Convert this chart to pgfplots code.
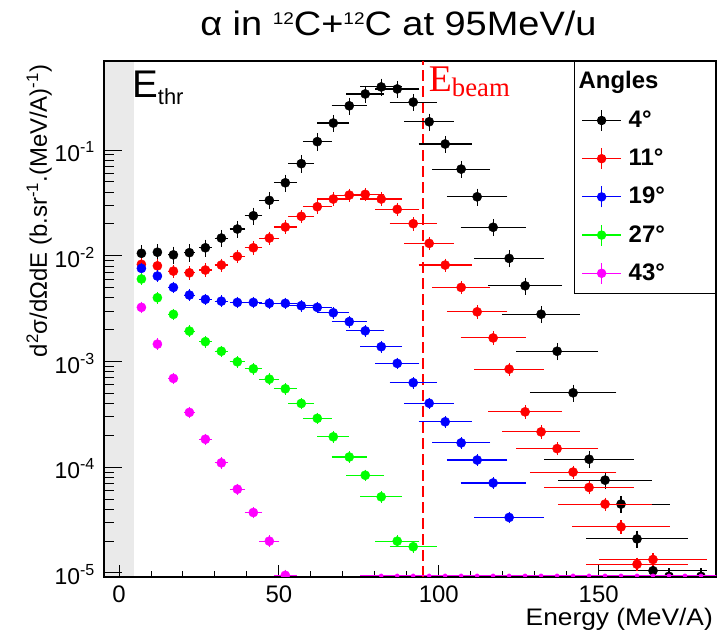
\documentclass[border=0pt]{standalone}
\usepackage{fontspec}
\setmainfont{Liberation Sans}
\newfontfamily\timesf{Liberation Serif}
\usepackage{graphicx}
\usepackage{pgfplots}
\pgfplotsset{compat=1.18}
\usepackage{pgfplotstable}

\definecolor{rblack}{RGB}{0,0,0}
\definecolor{rred}{RGB}{255,0,0}
\definecolor{rblue}{RGB}{0,0,255}
\definecolor{rgreen}{RGB}{0,255,0}
\definecolor{rmag}{RGB}{255,0,255}
\definecolor{band}{RGB}{234,234,234}

\pgfplotstableread{
x y ex
7 0.01055 0.3
12 0.0108 0.4
17 0.0102 0.6
22 0.0107 0.8
27 0.0119 1.0
32 0.0147 1.2
37 0.0179 1.5
42 0.0239 1.8
47 0.0334 2.2
52 0.049 2.6
57 0.0743 3.1
62 0.120 3.6
67 0.180 4.0
72 0.262 4.6
77 0.339 5.0
82 0.395 5.6
87 0.378 6.0
92 0.284 6.4
97 0.185 6.8
102 0.114 7.4
107 0.066 8.1
112 0.0361 8.5
117 0.0186 9.2
122 0.00944 9.9
127 0.0052 10.6
132 0.0028 11.2
137 0.00125 11.9
142 0.000506 12.6
147 0.000119 13.1
152 0.0000755 13.7
157 0.0000448 14.3
162 0.000021 15.0
167 0.0000105 15.8
172 0.0000093 16.4
182 0.0000093 17.6
}\tblack

\pgfplotstableread{
x y ex
7 0.0083 0.3
12 0.00803 0.4
17 0.00716 0.6
22 0.0069 0.8
27 0.00733 1.0
32 0.00817 1.2
37 0.00986 1.5
42 0.0119 1.8
47 0.0147 2.2
52 0.0187 2.6
57 0.0236 3.1
62 0.0291 3.6
67 0.0344 4.0
72 0.0375 4.6
77 0.0381 5.0
82 0.0344 5.6
87 0.0275 6.0
92 0.0201 6.4
97 0.0131 6.8
102 0.00817 7.4
107 0.00502 8.1
112 0.00295 8.5
117 0.00167 9.2
122 0.000847 9.9
127 0.000334 10.6
132 0.000216 11.2
137 0.000150 11.9
142 0.0000900 12.6
147 0.0000644 13.1
152 0.0000448 13.7
157 0.0000273 14.3
162 0.0000121 15.0
167 0.0000134 15.8
}\tred

\pgfplotstableread{
x y ex
7 0.0076 0.3
12 0.00643 0.4
17 0.00502 0.6
22 0.00425 0.8
27 0.00387 1.0
32 0.00372 1.2
37 0.00362 1.5
42 0.00362 1.8
47 0.00355 2.2
52 0.00355 2.6
57 0.00337 3.1
62 0.00325 3.6
67 0.00289 4.0
72 0.00238 4.6
77 0.00195 5.0
82 0.00138 5.6
87 0.00096 6.0
92 0.00063 6.4
97 0.000403 6.8
102 0.000269 7.4
107 0.00017 8.1
112 0.000117 8.5
117 0.000071 9.2
122 0.0000335 9.9
}\tblue

\pgfplotstableread{
x y ex
7 0.00603 0.3
12 0.00401 0.4
17 0.00279 0.6
22 0.00194 0.8
27 0.00154 1.0
32 0.00125 1.2
37 0.000993 1.5
42 0.000853 1.8
47 0.000681 2.2
52 0.000552 2.6
57 0.000401 3.1
62 0.00029 3.6
67 0.000194 4.0
72 0.000125 4.6
77 0.000084 5.0
82 0.0000525 5.6
87 0.00002 6.0
92 0.0000177 6.4
}\tgreen

\pgfplotstableread{
x y ex
7 0.00325 0.3
12 0.00146 0.4
17 0.000692 0.6
22 0.00033 0.8
27 0.000184 1.0
32 0.00011 1.2
37 0.000062 1.5
42 0.0000373 1.8
47 0.00002 2.2
52 0.0000095 2.6
}\tmag

\pgfplotstableread{
x y ex
82 0.0000094 5.6
87 0.0000094 6.0
92 0.0000094 6.4
97 0.0000094 6.8
102 0.0000094 7.4
107 0.0000094 8.1
112 0.0000094 8.5
117 0.0000094 9.2
122 0.0000094 9.9
127 0.0000094 10.6
132 0.0000094 11.2
137 0.0000094 11.9
142 0.0000094 12.6
147 0.0000094 13.1
152 0.0000094 13.7
157 0.0000094 14.3
162 0.0000094 15.0
167 0.0000094 15.8
172 0.0000094 16.4
177 0.0000094 17.0
182 0.0000094 17.6
}\tmagzero

\pgfplotsset{
  rootleg/.style={legend image code/.code={
    \draw[#1, line width=1.2bp] (0bp,7bp) -- (39bp,7bp);
    \draw[#1, line width=1.2bp] (19.5bp,-3.5bp) -- (19.5bp,17.5bp);
    \fill[#1] (19.5bp,7bp) circle (4.2bp);}},
  rootpts/.style n args={2}{color=#1, only marks, mark=*, mark size=4.6bp,
    mark options={fill=#1, draw=#1, solid}, rootleg=#1,
    error bars/.cd, x dir=both, x explicit, y dir=both, y fixed relative=#2,
    error bar style={color=#1, line width=1.1bp},
    error mark options={color=#1, mark size=3bp, line width=1.1bp}},
}
\newcommand{\lgt}[1]{\makebox[79.6bp][l]{\rule[-4bp]{0pt}{21bp}#1}}
\newcommand{\sups}[1]{\raisebox{11.5bp}{\fontsize{17}{17}\selectfont #1}}

\begin{document}
\begin{tikzpicture}
\begin{axis}[name=ax, set layers,
  scale only axis, width=612bp, height=516bp,
  xmin=-4.7, xmax=186.7, ymode=log, ymin=9.16e-6, ymax=0.695,
  clip mode=individual, clip marker paths=true,
  xtick={0,50,100,150}, minor x tick num=4,
  ytick={1e-5,1e-4,1e-3,1e-2,1e-1},
  yticklabels={10\textsuperscript{-5},10\textsuperscript{-4},10\textsuperscript{-3},10\textsuperscript{-2},10\textsuperscript{-1}},
  xtick pos=left, ytick pos=left, tick align=inside,
  major tick length=18bp, minor tick length=10bp,
  xtick style={/pgfplots/major tick length=12.5bp, /pgfplots/minor tick length=6.3bp},
  every tick/.style={black, line width=1bp},
  axis line style={line width=1.3bp},
  /pgf/number format/assume math mode=true,
  xticklabel style={font=\fontsize{24}{24}\selectfont, anchor=base, yshift=-25bp, inner sep=0pt},
  yticklabel style={font=\fontsize{23}{23}\selectfont, anchor=base east, xshift=-9bp, yshift=-11.7bp, inner sep=0pt},
  legend style={at={(1,1)}, anchor=north east, draw=black, line width=1bp, fill=white,
    inner xsep=7.2bp, inner ysep=9.5bp, row sep=16bp, column sep=7bp,
    font=\bfseries\fontsize{24}{24}\selectfont,
    nodes={inner sep=0pt, text depth=}, cells={anchor=base west}},
]
\begin{pgfonlayer}{axis background}
\fill[band] (axis cs:-4.7,9.16e-6) rectangle (axis cs:4.6,0.695);
\end{pgfonlayer}
\draw[rred, line width=2bp, dash pattern=on 11bp off 5bp] (axis cs:95,9.16e-6) -- (axis cs:95,0.695);

\addlegendimage{empty legend}
\addlegendentry{\lgt{\hspace*{-50bp}Angles}}

\addplot[rootpts={rblack}{0.12}] table[x=x, y=y, x error=ex] {\tblack};
\addlegendentry{\lgt{4°}}
\addplot[rootpts={rred}{0.08}] table[x=x, y=y, x error=ex] {\tred};
\addlegendentry{\lgt{11°}}
\addplot[rootpts={rblue}{0.06}] table[x=x, y=y, x error=ex] {\tblue};
\addlegendentry{\lgt{19°}}
\addplot[rootpts={rgreen}{0.06}] table[x=x, y=y, x error=ex] {\tgreen};
\addlegendentry{\lgt{27°}}
\addplot[rootpts={rmag}{0.06}] table[x=x, y=y, x error=ex] {\tmag};
\addlegendentry{\lgt{43°}}
\addplot[color=rmag, only marks, mark=none, forget plot,
  error bars/.cd, x dir=both, x explicit,
  error bar style={color=rmag, line width=1.2bp},
  error mark options={color=rmag, mark size=3bp, line width=1.2bp}]
  table[x=x, y=y, x error=ex] {\tmagzero};

\node[anchor=base west, inner sep=0pt, font=\fontsize{38.7}{38.7}\selectfont]
  at (rel axis cs:0.0458,0.9289) {E\raisebox{-7.3bp}{\fontsize{22}{22}\selectfont thr}};
\node[anchor=base west, inner sep=0pt, text=rred, font=\timesf\fontsize{37.8}{37.8}\selectfont]
  at (rel axis cs:0.5307,0.9405) {E\raisebox{-5bp}{\fontsize{26.8}{26.8}\selectfont beam}};
\end{axis}

\node[anchor=base, inner sep=0pt, font=\fontsize{34}{34}\selectfont]
  at ([xshift=294.4bp, yshift=541bp]ax.south west)
  {\scalebox{1.12}[1]{α in \sups{12}C+\sups{12}C at 95MeV/u}};
\node[anchor=base east, inner sep=0pt, font=\fontsize{24}{24}\selectfont]
  at ([xshift=-3bp, yshift=-48bp]ax.south east)
  {\scalebox{1.1}[1]{Energy (MeV/A)}};
\node[rotate=90, anchor=base, inner sep=0pt, font=\fontsize{24}{24}\selectfont]
  at ([xshift=-57bp, yshift=366bp]ax.south west)
  {d\textsuperscript{2}σ/dΩdE (b.sr\textsuperscript{-1}.(MeV/A)\textsuperscript{-1})};

\pgfresetboundingbox
\path[use as bounding box] ([xshift=-104bp,yshift=-56bp]ax.south west) rectangle ([xshift=7bp,yshift=61bp]ax.north east);
\end{tikzpicture}
\end{document}
